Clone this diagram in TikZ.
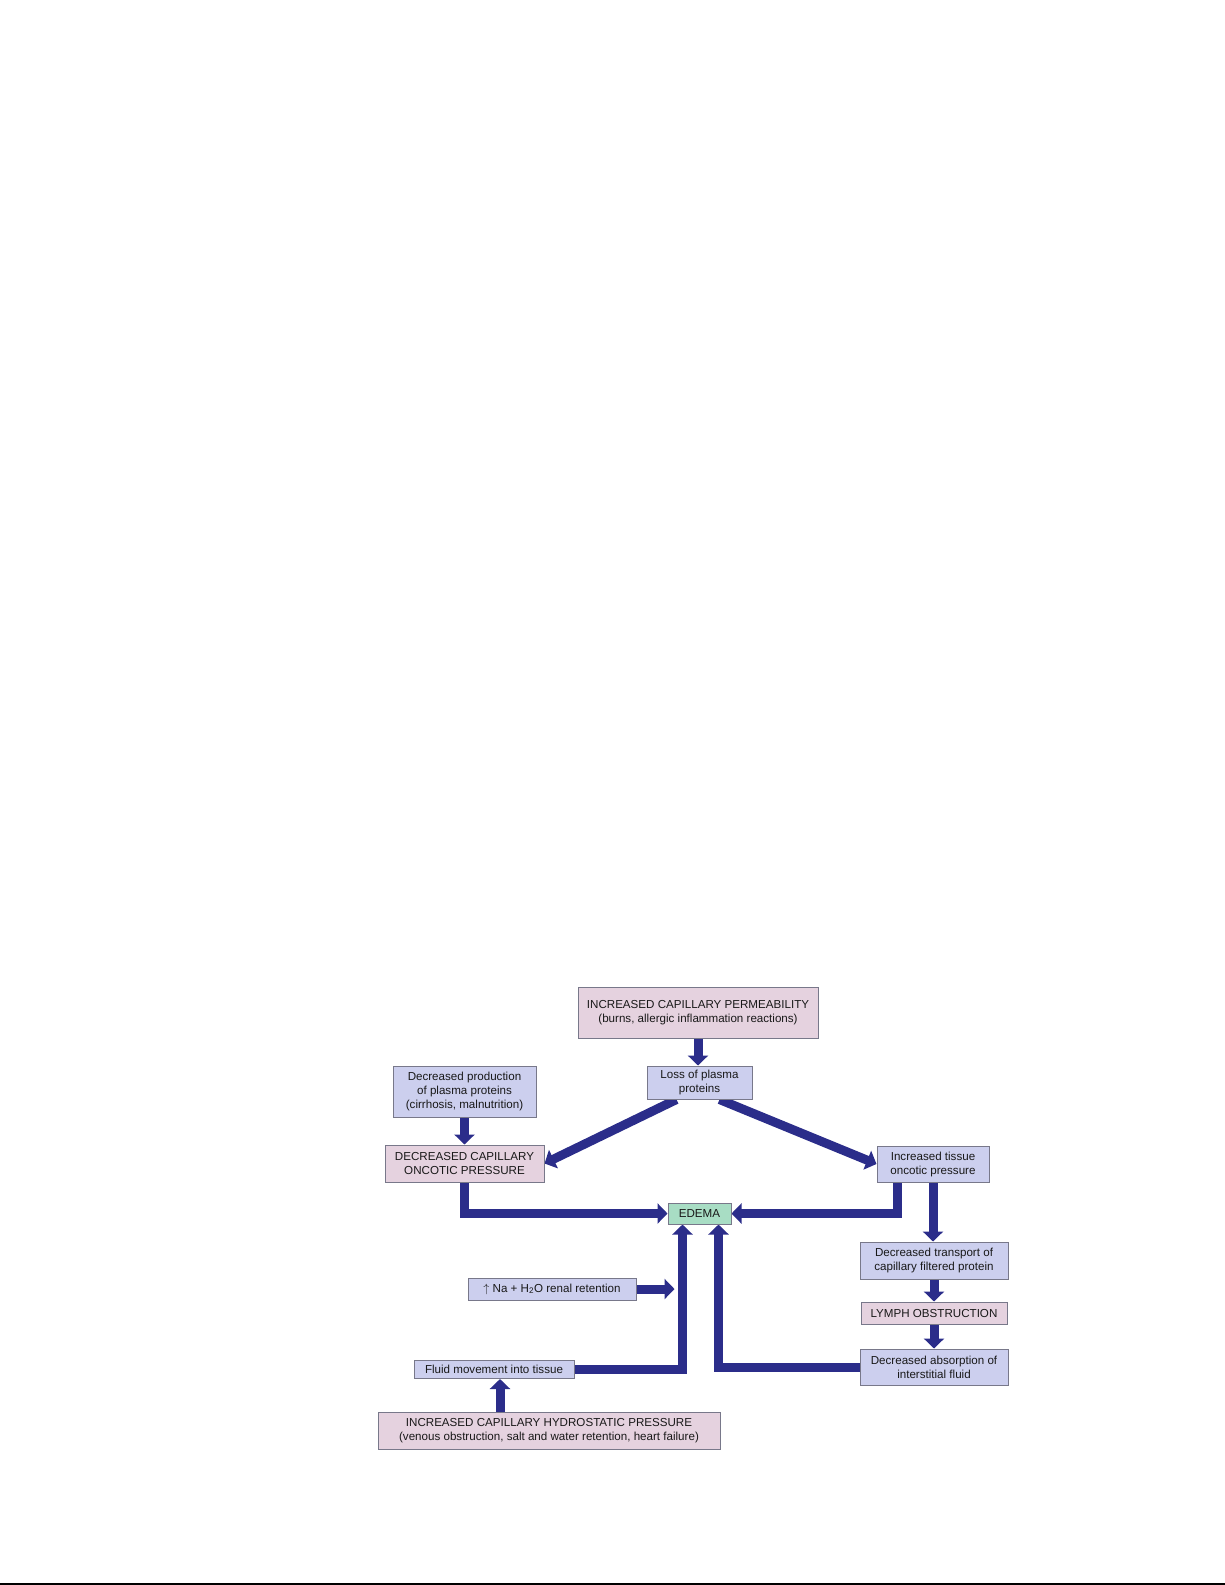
\documentclass[tikz,border=0pt]{standalone}
\usepackage{fontspec}
\setmainfont{Liberation Sans}
\usetikzlibrary{arrows.meta,calc}
\definecolor{boxblue}{RGB}{204,207,238}
\definecolor{boxpink}{RGB}{229,210,223}
\definecolor{boxgreen}{RGB}{168,221,196}
\definecolor{boxline}{RGB}{120,120,138}
\definecolor{flowblue}{RGB}{43,45,138}
\pgfdeclarelayer{back}
\pgfsetlayers{back,main}
\tikzset{
  box/.style={draw=boxline, line width=1pt, align=center, inner sep=0pt,
    text=black!90, font=\fontsize{11.6}{14}\selectfont},
  bluebox/.style={box, fill=boxblue},
  pinkbox/.style={box, fill=boxpink},
  greenbox/.style={box, fill=boxgreen},
  flow/.style={draw=flowblue, line width=9pt, -{Triangle[width=20pt,length=10pt]}}
}

\begin{document}
\begin{tikzpicture}[x=1pt,y=-1pt]
\useasboundingbox (0,0) rectangle (1225,1585);
% causes at the top
\node[pinkbox, minimum width=240pt, minimum height=51pt] (perm) at (698,1012.5)
  {INCREASED CAPILLARY PERMEABILITY\\(burns, allergic inflammation reactions)};
\node[bluebox, minimum width=105pt, minimum height=33pt] (loss) at (699.5,1082.5)
  {Loss of plasma\\proteins};
\node[bluebox, minimum width=143pt, minimum height=51pt] (prod) at (464.5,1091.5)
  {Decreased production\\of plasma proteins\\(cirrhosis, malnutrition)};
\node[pinkbox, minimum width=159pt, minimum height=37pt] (dcop) at (464.5,1163.5)
  {DECREASED CAPILLARY\\ONCOTIC PRESSURE};
\node[bluebox, minimum width=112pt, minimum height=36pt] (tissue) at (933,1164)
  {Increased tissue\\oncotic pressure};
\node[greenbox, minimum width=63pt, minimum height=21pt] (edema) at (699.5,1213.5)
  {EDEMA};
% lymph side
\node[bluebox, minimum width=148pt, minimum height=37pt] (transport) at (934,1260.5)
  {Decreased transport of\\capillary filtered protein};
\node[pinkbox, minimum width=146pt, minimum height=22pt] (lymph) at (934,1313)
  {LYMPH OBSTRUCTION};
\node[bluebox, minimum width=148pt, minimum height=36pt] (absorb) at (934,1367)
  {Decreased absorption of\\interstitial fluid};
% hydrostatic side
\node[bluebox, minimum width=168pt, minimum height=22pt] (na) at (552,1289)
  {$\uparrow$ Na + H\textsubscript{2}O renal retention};
\node[bluebox, minimum width=160pt, minimum height=18pt] (fluid) at (494,1369.5)
  {Fluid movement into tissue};
\node[pinkbox, minimum width=342pt, minimum height=37pt] (hydro) at (549,1430.5)
  {INCREASED CAPILLARY HYDROSTATIC PRESSURE\\(venous obstruction, salt and water retention, heart failure)};
\coordinate (fl) at ([xshift=-17pt]edema.south |- fluid.east);

\begin{pgfonlayer}{back}
\draw[flow] (perm.south) -- (perm.south |- loss.north);
\draw[flow] (prod.south) -- (dcop.north);
\draw[flow] ([xshift=-23pt]loss.south) -- (dcop.east);
\draw[flow] ([xshift=20pt]loss.south) -- (tissue.west);
\draw[flow] (dcop.south) |- (edema.west);
\draw[flow] ([xshift=-36pt]tissue.south) |- (edema.east);
\draw[flow] (tissue.south) -- (tissue.south |- transport.north);
\draw[flow] (transport.south) -- (lymph.north);
\draw[flow] (lymph.south) -- (absorb.north);
\draw[flow] (absorb.west) -| ([xshift=19pt]edema.south);
\draw[flow] (fluid.east) -| ([xshift=-17pt]edema.south);
\draw[flow, shorten >=8pt] (na.east) -- (na.east -| fl);
\draw[flow] ([xshift=6pt]fluid.south |- hydro.north) -- ([xshift=6pt]fluid.south);
\end{pgfonlayer}

\draw[line width=2pt] (0,1583.5) -- (1225,1583.5);
\end{tikzpicture}
\end{document}
